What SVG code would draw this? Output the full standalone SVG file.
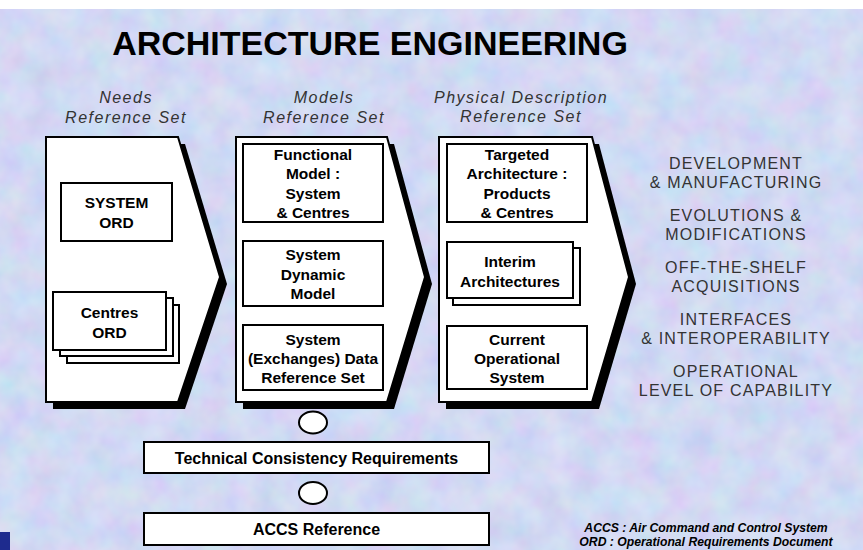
<svg xmlns="http://www.w3.org/2000/svg" width="863" height="550" viewBox="0 0 863 550">
<defs>
<filter id="tex" x="0" y="0" width="100%" height="100%">
<feTurbulence type="fractalNoise" baseFrequency="0.035" numOctaves="3" seed="7"/>
<feColorMatrix type="matrix" values="0.7 0 0 0 0.45  0 0.6 0 0 0.5  0 0 0.3 0 0.78  0 0 0 0 0.45"/>
</filter>
<style>
.shape{fill:#fff;stroke:#000;stroke-width:2}
.shadow{fill:#000}
.box{fill:#fff;stroke:#000;stroke-width:2}
.bt{font-family:"Liberation Sans",Arial,sans-serif;font-weight:bold;font-size:15.5px;fill:#000;text-anchor:middle}
.bb{font-family:"Liberation Sans",Arial,sans-serif;font-weight:bold;font-size:16px;fill:#000;text-anchor:middle}
.hd{font-family:"Liberation Sans",Arial,sans-serif;font-style:italic;font-size:16px;fill:#333;text-anchor:middle;letter-spacing:1.5px}
.rt{font-family:"Liberation Sans",Arial,sans-serif;font-size:16px;fill:#333;text-anchor:middle;letter-spacing:1.2px}
.fn{font-family:"Liberation Sans",Arial,sans-serif;font-style:italic;font-weight:bold;font-size:12.2px;fill:#000;text-anchor:middle}
.ring{fill:#fff;stroke:#000;stroke-width:2}
</style>
</defs>
<rect x="0" y="0" width="863" height="550" fill="#c0cdf0"/>
<rect x="0" y="0" width="863" height="550" filter="url(#tex)"/>
<rect x="0" y="0" width="863" height="9" fill="#fff"/>
<rect x="0" y="532" width="10" height="18" fill="#1e2b8e"/>

<text x="370" y="55" font-family="Liberation Sans, Arial, sans-serif" font-weight="bold" font-size="34" text-anchor="middle" fill="#000">ARCHITECTURE ENGINEERING</text>

<g id="label-needs">
<text class="hd" x="126" y="103">Needs</text>
<text class="hd" x="126" y="123">Reference Set</text>
</g>
<g id="label-models">
<text class="hd" x="324" y="103">Models</text>
<text class="hd" x="324" y="123">Reference Set</text>
</g>
<g id="label-physical">
<text class="hd" x="521" y="103">Physical Description</text>
<text class="hd" x="521" y="122">Reference Set</text>
</g>

<g id="needs-set">
<polygon class="shadow" points="53,144 185,144 227,284 185,409 53,409"/>
<polygon class="shape" points="46,137 178,137 220,277 178,402 46,402"/>
</g>
<g id="system-ord">
<rect class="box" x="61" y="183" width="111" height="58"/>
<text class="bt" x="116.5" y="208">SYSTEM</text>
<text class="bt" x="116.5" y="228">ORD</text>
</g>
<g id="centres-ord">
<rect class="box" x="67" y="305" width="112" height="58"/>
<rect class="box" x="60" y="298" width="113" height="58"/>
<rect class="box" x="53" y="292" width="113" height="58"/>
<text class="bt" x="109.5" y="318">Centres</text>
<text class="bt" x="109.5" y="338">ORD</text>
</g>

<g id="models-set">
<polygon class="shadow" points="243,144 394,144 432,284 394,409 243,409"/>
<polygon class="shape" points="236,137 387,137 425,277 387,402 236,402"/>
</g>
<g id="functional-model">
<rect class="box" x="243" y="144" width="140" height="78"/>
<text class="bt" x="313" y="160">Functional</text>
<text class="bt" x="313" y="179">Model :</text>
<text class="bt" x="313" y="198.5">System</text>
<text class="bt" x="313" y="217.5">&amp; Centres</text>
</g>
<g id="system-dynamic-model">
<rect class="box" x="243" y="241" width="140" height="65"/>
<text class="bt" x="313" y="260">System</text>
<text class="bt" x="313" y="280">Dynamic</text>
<text class="bt" x="313" y="299">Model</text>
</g>
<g id="data-reference-set">
<rect class="box" x="243" y="325" width="140" height="65"/>
<text class="bt" x="313" y="345">System</text>
<text class="bt" x="313" y="364">(Exchanges) Data</text>
<text class="bt" x="313" y="383">Reference Set</text>
</g>

<g id="physical-set">
<polygon class="shadow" points="446,144 599,144 636,284 599,409 446,409"/>
<polygon class="shape" points="439,137 592,137 629,277 592,402 439,402"/>
</g>
<g id="targeted-architecture">
<rect class="box" x="447" y="144" width="140" height="78"/>
<text class="bt" x="517" y="160">Targeted</text>
<text class="bt" x="517" y="179">Architecture :</text>
<text class="bt" x="517" y="198.5">Products</text>
<text class="bt" x="517" y="217.5">&amp; Centres</text>
</g>
<g id="interim-architectures">
<rect class="box" x="453" y="248" width="127" height="57"/>
<rect class="box" x="447" y="242" width="126" height="56"/>
<text class="bt" x="510" y="266.5">Interim</text>
<text class="bt" x="510" y="286.5">Architectures</text>
</g>
<g id="current-system">
<rect class="box" x="447" y="326" width="140" height="63"/>
<text class="bt" x="517" y="345">Current</text>
<text class="bt" x="517" y="364">Operational</text>
<text class="bt" x="517" y="383">System</text>
</g>

<g id="outcomes">
<text class="rt" x="736" y="169">DEVELOPMENT</text>
<text class="rt" x="736" y="188">&amp; MANUFACTURING</text>
<text class="rt" x="736" y="221">EVOLUTIONS &amp;</text>
<text class="rt" x="736" y="240">MODIFICATIONS</text>
<text class="rt" x="736" y="273">OFF-THE-SHELF</text>
<text class="rt" x="736" y="292">ACQUISITIONS</text>
<text class="rt" x="736" y="325">INTERFACES</text>
<text class="rt" x="736" y="344">&amp; INTEROPERABILITY</text>
<text class="rt" x="736" y="377">OPERATIONAL</text>
<text class="rt" x="736" y="396">LEVEL OF CAPABILITY</text>
</g>

<g id="connectors">
<ellipse class="ring" cx="313" cy="422.5" rx="14" ry="11"/>
<ellipse class="ring" cx="313" cy="493" rx="14" ry="11"/>
</g>

<g id="technical-consistency">
<rect class="box" x="144" y="442" width="345" height="31"/>
<text class="bb" x="316.5" y="464">Technical Consistency Requirements</text>
</g>
<g id="accs-reference">
<rect class="box" x="144" y="513" width="345" height="32"/>
<text class="bb" x="316.5" y="535">ACCS Reference</text>
</g>

<g id="footnote">
<text class="fn" x="706" y="532">ACCS : Air Command and Control System</text>
<text class="fn" x="706" y="546">ORD : Operational Requirements Document</text>
</g>
</svg>
